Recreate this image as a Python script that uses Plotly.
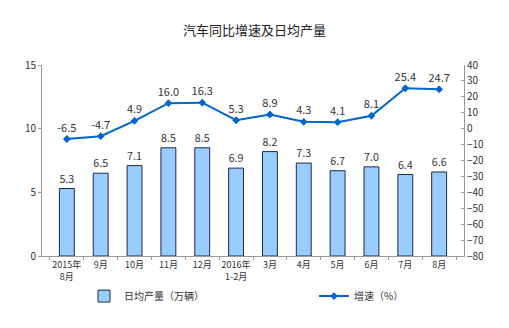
import plotly.graph_objects as go

categories = ["2015年<br>8月", "9月", "10月", "11月", "12月", "2016年<br>1-2月",
              "3月", "4月", "5月", "6月", "7月", "8月"]
daily_output = [5.3, 6.5, 7.1, 8.5, 8.5, 6.9, 8.2, 7.3, 6.7, 7.0, 6.4, 6.6]
growth = [-6.5, -4.7, 4.9, 16.0, 16.3, 5.3, 8.9, 4.3, 4.1, 8.1, 25.4, 24.7]
left_ticks = [0, 5, 10, 15]
right_ticks = list(range(-80, 41, 10))

font_family = "Noto Sans CJK SC, Noto Sans, sans-serif"
txt_color = "#333333"

fig = go.Figure()
fig.add_trace(go.Bar(
    x=categories, y=daily_output, name="日均产量（万辆）",
    marker=dict(color="#99CCFF", line=dict(color="#1F2A44", width=1)),
    width=0.44,
    text=[f"{v:.1f}" for v in daily_output], textposition="outside",
    textfont=dict(size=11, color=txt_color), cliponaxis=False,
    yaxis="y", legend="legend", showlegend=True,
))
fig.add_trace(go.Scatter(
    x=categories, y=growth, name="增速（%）", mode="lines+markers+text",
    line=dict(color="#0066CC", width=2),
    marker=dict(symbol="diamond", size=6, color="#0066CC"),
    text=[f"{v:.1f}" for v in growth], textposition="top center",
    textfont=dict(size=11, color=txt_color), cliponaxis=False,
    yaxis="y2", legend="legend2", showlegend=True,
))

fig.update_layout(
    width=509, height=328, showlegend=True,
    margin=dict(l=42, r=45, t=65, b=72),
    paper_bgcolor="white", plot_bgcolor="white",
    font=dict(family=font_family, size=10, color=txt_color),
    title=dict(text="汽车同比增速及日均产量", x=0.5, xanchor="center",
               y=1 - 30 / 328, yanchor="middle",
               font=dict(size=13, color="#222222")),
    xaxis=dict(type="category", showline=True, linecolor="#999999",
               ticks="outside", tickson="boundaries", ticklen=3,
               tickcolor="#999999", showgrid=False, tickangle=0,
               tickfont=dict(size=9)),
    yaxis=dict(range=[0, 15], tickvals=left_ticks, showline=True,
               linecolor="#999999", ticks="outside", ticklen=3,
               tickcolor="#999999", showgrid=False, zeroline=False,
               tickfont=dict(size=10)),
    yaxis2=dict(range=[-80, 40], tickvals=right_ticks, overlaying="y",
                side="right", showline=True, linecolor="#999999",
                ticks="inside", ticklen=3, tickcolor="#999999",
                showgrid=False, zeroline=False, tickfont=dict(size=10)),
    legend=dict(orientation="h", x=(84 - 42) / 422, xanchor="left",
                y=-0.21, yanchor="middle", font=dict(size=10)),
    legend2=dict(orientation="h", x=(314 - 42) / 422, xanchor="left",
                 y=-0.21, yanchor="middle", font=dict(size=10)),
    bargap=0.5,
)

fig.write_html("out.html")
